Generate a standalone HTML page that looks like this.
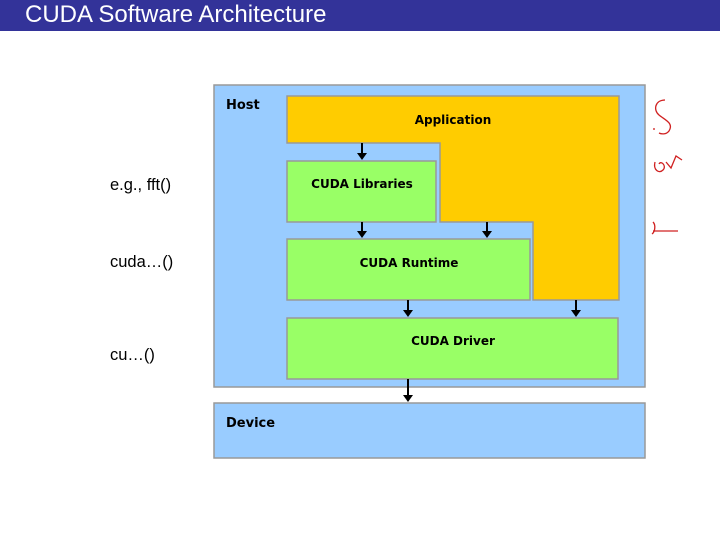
<!DOCTYPE html>
<html><head><style>
body{margin:0;width:720px;height:540px;background:#fff;position:relative;overflow:hidden;font-family:"Liberation Sans",sans-serif}
.bar{position:absolute;left:0;top:0;width:720px;height:31px;background:#333399;color:#fff;font-size:24px;line-height:29px;padding-left:25px;box-sizing:border-box}
.l{position:absolute;font-size:16.5px;color:#000}
svg{position:absolute;left:0;top:0}
</style></head><body>
<div class="bar">CUDA Software Architecture</div>
<svg width="720" height="540" font-family="DejaVu Sans, sans-serif" font-weight="bold" font-size="13">
<rect x="214" y="85" width="431" height="302" fill="#99ccff" stroke="#999" stroke-width="1.5"/>
<rect x="214" y="403" width="431" height="55" fill="#99ccff" stroke="#999" stroke-width="1.5"/>
<path d="M287 96H619V300H533V222H440V143H287Z" fill="#ffcc00" stroke="#999" stroke-width="1.5"/>
<rect x="287" y="161" width="149" height="61" fill="#99ff66" stroke="#999" stroke-width="1.5"/>
<rect x="287" y="239" width="243" height="61" fill="#99ff66" stroke="#999" stroke-width="1.5"/>
<rect x="287" y="318" width="331" height="61" fill="#99ff66" stroke="#999" stroke-width="1.5"/>
<text x="226" y="109">Host</text>
<text x="226" y="427">Device</text>
<text x="453" y="124" text-anchor="middle" font-size="12">Application</text>
<text x="362" y="188" text-anchor="middle" font-size="12">CUDA Libraries</text>
<text x="409" y="267" text-anchor="middle" font-size="12">CUDA Runtime</text>
<text x="453" y="345" text-anchor="middle" font-size="12">CUDA Driver</text>
<g stroke="#000" stroke-width="2">
<line x1="362" y1="143" x2="362" y2="154"/><line x1="362" y1="222" x2="362" y2="232"/><line x1="487" y1="222" x2="487" y2="232"/><line x1="408" y1="300" x2="408" y2="311"/><line x1="576" y1="300" x2="576" y2="311"/><line x1="408" y1="379" x2="408" y2="396"/>
</g>
<g fill="#000">
<path d="M357 153h10l-5 7z"/><path d="M357 231h10l-5 7z"/><path d="M482 231h10l-5 7z"/><path d="M403 310h10l-5 7z"/><path d="M571 310h10l-5 7z"/><path d="M403 395h10l-5 7z"/>
</g>
<g stroke="#d02020" stroke-width="1.3" fill="none">
<path d="M665 100c-10 0-12 10-6 15s15 8 10 16c-3 4-8 3-10 2"/>
<path d="M654 128v2"/>
<path d="M655 162c-2 8 4 12 8 8s-2-10-4-6M666 162l5 6 5-12 6 4"/>
<path d="M653 222c3 3 2 10-1 12M653 231h25"/>
</g>
</svg>
<div class="l" style="left:110px;top:176px">e.g., fft()</div>
<div class="l" style="left:110px;top:253px">cuda…()</div>
<div class="l" style="left:110px;top:346px">cu…()</div>
</body></html>
